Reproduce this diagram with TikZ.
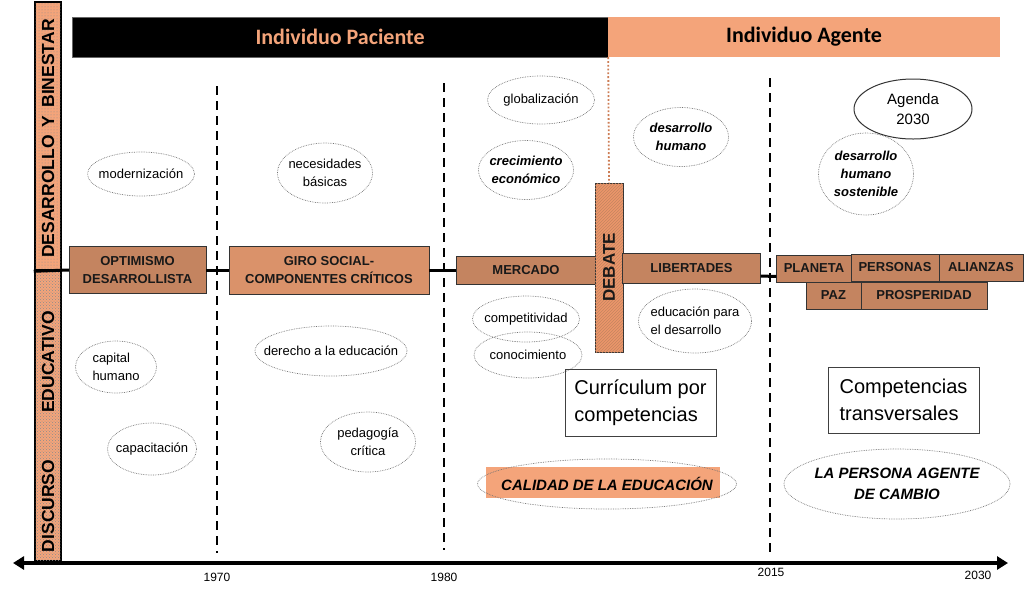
\documentclass[tikz,border=0pt]{standalone}
\usepackage{fontspec}
\setmainfont{Liberation Sans}
\newfontfamily\headfont{Carlito}
\usepackage{tikz}
\usetikzlibrary{arrows.meta, shapes.geometric, patterns}
\definecolor{peach}{RGB}{244,164,122}
\definecolor{clay}{RGB}{196,132,96}
\definecolor{giroclr}{RGB}{218,146,106}
\definecolor{debclr}{RGB}{236,150,106}
\definecolor{rust}{RGB}{205,125,85}
\newcommand{\tsz}[2]{\fontsize{#1}{#2}\selectfont}

\begin{document}
\begin{tikzpicture}[x=1pt, y=-1pt,
    stage/.style={draw=black!80, fill=clay, inner sep=0pt, font=\tsz{13}{18}\bfseries, text=black!90, align=center},
    ring/.style={ellipse, draw=black!55, densely dotted, line width=0.7pt, inner sep=0pt},
    lbl/.style={font=\tsz{13}{18}, align=center, inner sep=0pt},
    idea/.style={ring, label={[lbl]center:{#1}}},
    ideal/.style={ring, label={[lbl, align=left]center:{#1}}},
    ideab/.style={ring, label={[lbl, font=\tsz{13}{18}\bfseries\itshape]center:{#1}}},
    ideabig/.style={ring, label={[lbl, font=\tsz{15}{21}\bfseries\itshape]center:{#1}}},
    era/.style={line width=2.4pt, dash pattern=on 9pt off 6pt},
    year/.style={font=\tsz{12}{14}},
    textbox/.style={draw=black!75, line width=0.9pt, inner sep=0pt, font=\tsz{20}{27}, align=left},
    sidecol/.style={draw, line width=2.5pt, fill=peach, minimum width=26pt, inner sep=0pt},
    sidelbl/.style={rotate=90, font=\tsz{17.5}{18}\bfseries}]
  \useasboundingbox (0,0) rectangle (1024,598);
  % header bars
  \node[fill=black, draw=black!60, minimum width=536pt, minimum height=40pt, inner sep=0pt,
        font=\headfont\tsz{22}{24}\bfseries, text=peach] (pac) at (340,37) {Individuo Paciente};
  \node[fill=peach, minimum width=392pt, minimum height=40pt, inner sep=0pt,
        font=\headfont\tsz{22}{24}\bfseries, text=black] (age) at (804,37) {Individuo Agente};
  % side column
  \node[sidecol, minimum height=268pt, postaction={pattern=dots, pattern color=black!45}] (colup) at (48,136) {};
  \node[sidecol, minimum height=291pt, postaction={pattern=crosshatch dots, pattern color=black!45}] (collow) at (48,415.5) {};
  \node[sidelbl] (lblup) at (48,138.5) {DESARROLLO\hspace{8pt}Y\hspace{8pt}BINESTAR};
  \node[sidelbl] (lbllow) at (48,431.5) {DISCURSO\hspace{47pt}EDUCATIVO};
  % vertical dashed lines
  \draw[era] (217,86) -- (217,553);
  \draw[era] (444,83) -- (444,550);
  \draw[era] (770,78) -- (770,553);
  % stages on the timeline
  \node[stage, minimum width=137pt, minimum height=47pt] (opt) at (137.5,270) {OPTIMISMO\\DESARROLLISTA};
  \node[stage, fill=giroclr, minimum width=200pt, minimum height=48pt] (giro) at (329,270) {GIRO SOCIAL-\\COMPONENTES CRÍTICOS};
  \node[stage, minimum width=139pt, minimum height=28pt] (mercado) at (526,270) {MERCADO};
  \node[stage, fill=debclr, rotate=90, minimum width=169pt, minimum height=28pt, font=\tsz{17}{20}\bfseries,
        postaction={pattern=north east lines, pattern color=clay}] (debate) at (609,267.5) {DEBATE};
  \node[stage, minimum width=138pt, minimum height=30pt] (libertades) at (691.5,268) {LIBERTADES};
  \node[stage, minimum width=75pt, minimum height=27pt] (planeta) at (814,268.5) {PLANETA};
  \node[stage, minimum width=88pt, minimum height=27pt] (personas) at (895,267.5) {PERSONAS};
  \node[stage, minimum width=84pt, minimum height=27pt] (alianzas) at (981,267.5) {ALIANZAS};
  \node[stage, minimum width=55pt, minimum height=27pt] (paz) at (833.5,295.5) {PAZ};
  \node[stage, minimum width=126pt, minimum height=27pt] (prosperidad) at (924,295.5) {PROSPERIDAD};
  % horizontal line
  \draw[line width=3pt] (colup.south west) -- (opt.west);
  \draw[line width=3pt] (opt) -- (giro);
  \draw[line width=3pt] (giro) -- (mercado);
  \draw[line width=3pt] ([yshift=-8pt]libertades.east) -- ([yshift=-8pt]planeta.west);
  % from the header split down to debate
  \draw[rust, dotted, line width=1.8pt] (pac.south east) -- (debate.east);
  % development ideas
  \node[idea={modernización}, minimum width=107pt, minimum height=44pt] (modern) at (141,174) {};
  \node[idea={necesidades\\básicas}, minimum width=95pt, minimum height=60pt] (necesid) at (325,173) {};
  \node[idea={globalización}, minimum width=107pt, minimum height=48pt] (glob) at (541,100) {};
  \node[ideab={crecimiento\\económico}, minimum width=95pt, minimum height=59pt] (crec) at (526,170) {};
  \node[ideab={desarrollo\\humano}, minimum width=95pt, minimum height=59pt] (dh) at (681,137) {};
  \node[ideab={desarrollo\\humano\\sostenible}, minimum width=95pt, minimum height=82pt] (dhs) at (866,174) {};
  \node[ellipse, draw=black!80, line width=1pt, inner sep=0pt, minimum width=118pt, minimum height=60pt,
        font=\tsz{15}{20}, align=center] (agenda) at (913,109) {Agenda\\2030};
  % educational ideas
  \node[ideal={capital\\humano}, minimum width=81pt, minimum height=52pt] (capital) at (116,367) {};
  \node[idea={capacitación}, minimum width=89pt, minimum height=52pt] (capac) at (152,449) {};
  \node[idea={derecho a la educación}, minimum width=152pt, minimum height=50pt] (derecho) at (331,351) {};
  \node[idea={pedagogía\\crítica}, minimum width=95pt, minimum height=60pt] (pedag) at (368,442) {};
  \node[idea={competitividad}, minimum width=107pt, minimum height=46pt] (compet) at (526,319) {};
  \node[idea={conocimiento}, minimum width=108pt, minimum height=46pt] (conoc) at (528,355) {};
  \node[ideal={educación para\\el desarrollo}, minimum width=113pt, minimum height=64pt] (edudes) at (695,321) {};
  \node[textbox, minimum width=151pt, minimum height=67pt] (curric) at (640.5,402.5) {Currículum por\\competencias};
  \node[textbox, minimum width=151pt, minimum height=66pt] (comptr) at (903.5,400) {Competencias\\transversales};
  \fill[peach] (486,467) rectangle (720,498);
  \node[ideabig={CALIDAD DE LA EDUCACIÓN}, minimum width=259pt, minimum height=50pt] (calidad) at (607,484) {};
  \node[ideabig={LA PERSONA AGENTE\\DE CAMBIO}, minimum width=226pt, minimum height=70pt] (persona) at (897,484) {};
  % time axis
  \coordinate (axl) at (13,563);
  \coordinate (axr) at (1008,563);
  \draw[line width=3.5pt, {Triangle[length=11pt,width=13pt]}-{Triangle[length=11pt,width=13pt]}] (axl) -- (axr);
  \node[year] (y1970) at (217,577) {1970};
  \node[year] (y1980) at (444,577) {1980};
  \node[year] (y2015) at (771,572) {2015};
  \node[year] (y2030) at (978,575) {2030};
\end{tikzpicture}
\end{document}
